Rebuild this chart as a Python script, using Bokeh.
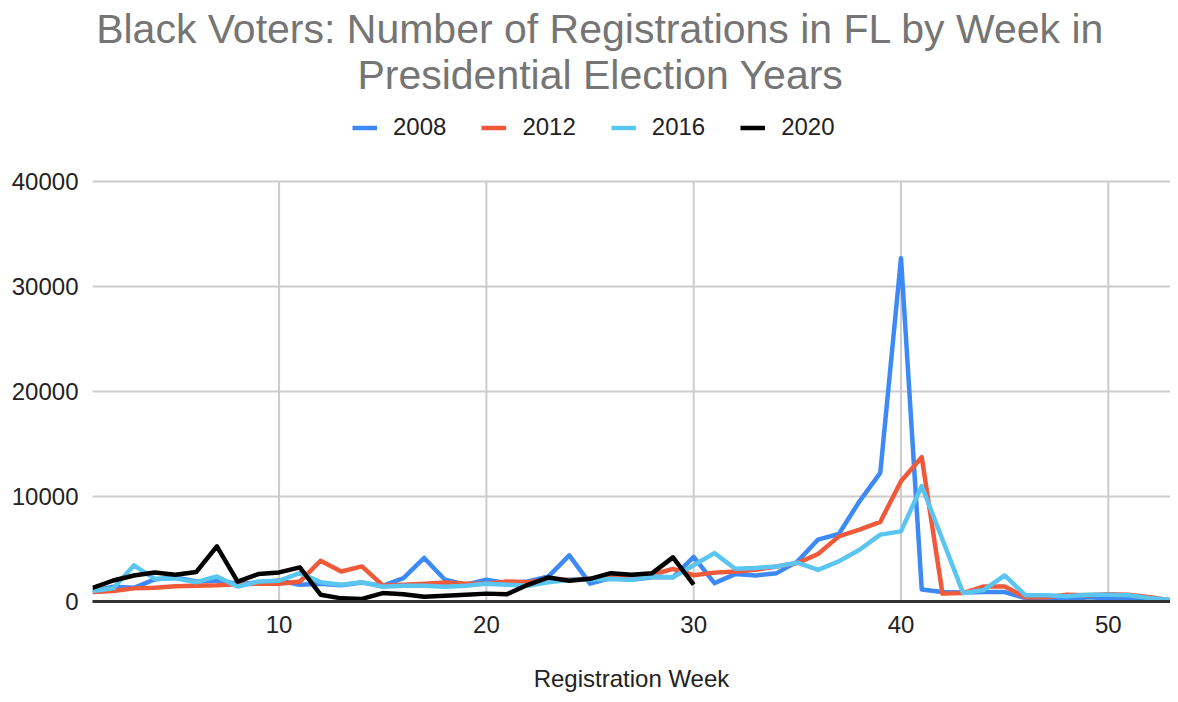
from bokeh.plotting import figure
from bokeh.models import Label, Legend, LegendItem, FixedTicker, Range1d
from bokeh.embed import file_html
from bokeh.resources import INLINE

weeks = list(range(1, 54))
weeks_2020 = list(range(1, 31))

reg_2008 = [1000, 1400, 1300, 2100, 2300, 1900, 2000, 1700, 1800, 2000,
            1600, 1700, 1550, 1800, 1500, 2230, 4150, 2070, 1600, 2070,
            1750, 1900, 2390, 4390, 1700, 2230, 2070, 2300, 2300, 4250,
            1750, 2610, 2480, 2700, 3800, 5900, 6430, 9550, 12250, 32700,
            1150, 900, 850, 900, 900, 320, 320, 150, 400, 320,
            320, 150, 50]
reg_2012 = [900, 1000, 1250, 1300, 1450, 1500, 1550, 1650, 1700, 1700,
            1900, 3880, 2860, 3340, 1530, 1600, 1700, 1800, 1700, 1700,
            1900, 1840, 2070, 2070, 2160, 2390, 2480, 2550, 3100, 2500,
            2750, 2860, 3020, 3340, 3660, 4520, 6200, 6850, 7580, 11460,
            13750, 750, 800, 1430, 1430, 400, 400, 650, 600, 700,
            650, 400, 100]
reg_2016 = [1000, 1270, 3440, 2165, 2200, 1840, 2390, 1430, 1900, 1975,
            2700, 1840, 1600, 1840, 1400, 1500, 1500, 1400, 1500, 1700,
            1600, 1500, 1840, 2070, 2100, 2150, 2070, 2390, 2300, 3450,
            4610, 3120, 3200, 3340, 3700, 3020, 3820, 4930, 6370, 6680,
            11000, 5900, 800, 1100, 2480, 600, 600, 500, 650, 650,
            600, 320, 150]
reg_2020 = [1300, 2000, 2480, 2770, 2550, 2800, 5250, 1900, 2610, 2770,
            3250, 650, 300, 250, 800, 700, 450, 550, 650, 750,
            700, 1590, 2290, 1975, 2160, 2700, 2550, 2700, 4200, 1600]

series_names = ["2008", "2012", "2016", "2020"]
series_x = [weeks, weeks, weeks, weeks_2020]
series_y = [reg_2008, reg_2012, reg_2016, reg_2020]
series_colors = ["#3d8af7", "#f05a3a", "#5bc5f2", "#000000"]

x_ticks = [10, 20, 30, 40, 50]
y_ticks = [0, 10000, 20000, 30000, 40000]

title_line1 = "Black Voters: Number of Registrations in FL by Week in"
title_line2 = "Presidential Election Years"
x_label = "Registration Week"

FONT = "Liberation Sans"
Y_MAX = 40000
# frame extends above the data area so that the title and legend sit inside it
Y_TOP = Y_MAX * 601 / 420

p = figure(width=1170, height=694, output_backend="svg", toolbar_location=None,
           x_range=Range1d(1, 53), y_range=Range1d(0, Y_TOP),
           min_border_left=92, min_border_right=0, min_border_top=0,
           min_border_bottom=93)
p.outline_line_color = None
p.background_fill_color = "white"
p.border_fill_color = "white"

p.xaxis.ticker = FixedTicker(ticks=x_ticks)
p.yaxis.ticker = FixedTicker(ticks=y_ticks)
p.xgrid.visible = False
p.ygrid.ticker = FixedTicker(ticks=y_ticks)
p.ygrid.grid_line_color = "#cccccc"
p.ygrid.grid_line_width = 2

# vertical grid lines limited to the data area
p.segment(x0=x_ticks, y0=[0] * len(x_ticks), x1=x_ticks, y1=[Y_MAX] * len(x_ticks),
          line_color="#cccccc", line_width=2)

p.xaxis.axis_line_color = "#333333"
p.xaxis.axis_line_width = 3
p.yaxis.axis_line_color = None
for ax in (p.xaxis, p.yaxis):
    ax.major_tick_line_color = None
    ax.minor_tick_line_color = None
    ax.major_tick_out = 0
    ax.major_tick_in = 0
    ax.major_label_text_font = FONT
    ax.major_label_text_font_size = "24px"
    ax.major_label_text_color = "#222222"
    ax.major_label_standoff = 14

p.xaxis.axis_label = x_label
p.xaxis.axis_label_text_font = FONT
p.xaxis.axis_label_text_font_size = "24px"
p.xaxis.axis_label_text_font_style = "normal"
p.xaxis.axis_label_text_color = "#222222"
p.xaxis.axis_label_standoff = 29

renderers = []
for name, xs, ys, color in zip(series_names, series_x, series_y, series_colors):
    r = p.line(xs, ys, line_color=color, line_width=4.5, line_join="round")
    renderers.append((name, r))

legend = Legend(items=[LegendItem(label=n, renderers=[r]) for n, r in renderers],
                location=(260, 460), orientation="horizontal",
                glyph_width=25, glyph_height=27, label_height=27,
                label_standoff=16, spacing=35,
                padding=0, margin=0, border_line_color=None,
                background_fill_alpha=0,
                label_text_font=FONT, label_text_font_size="24px",
                label_text_color="#222222")
p.add_layout(legend)

title_color = "#757575"
p.add_layout(Label(x=508, y=573, x_units="screen", y_units="screen",
                   text=title_line1,
                   text_align="center", text_baseline="alphabetic",
                   text_font=FONT, text_font_size="41px", text_color=title_color))
p.add_layout(Label(x=508, y=527, x_units="screen", y_units="screen",
                   text=title_line2,
                   text_align="center", text_baseline="alphabetic",
                   text_font=FONT, text_font_size="41px", text_color=title_color))

open("out.html", "w").write(file_html(p, INLINE))
